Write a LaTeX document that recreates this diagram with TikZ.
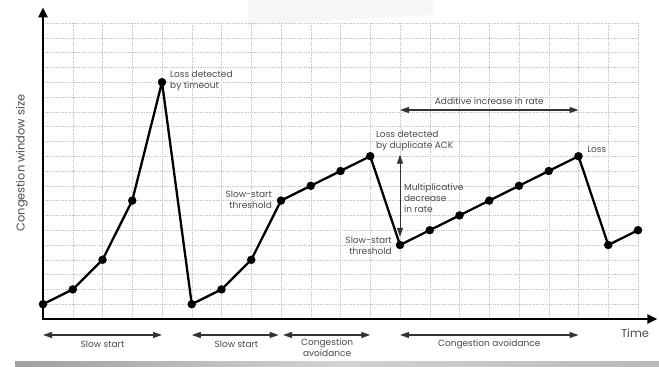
\documentclass[tikz,border=0pt]{standalone}
\usepackage{fontspec}
\setmainfont{Poppins}
\usetikzlibrary{arrows.meta}
\definecolor{labelgray}{HTML}{4A4A4A}
\definecolor{gridgray}{HTML}{C4C4C4}
\definecolor{spangray}{HTML}{333333}
\begin{document}
\begin{tikzpicture}[
  gridline/.style={gridgray, line width=0.45pt, dash pattern=on 1pt off 0.8pt},
  axisline/.style={line width=2.3pt, line join=miter,
    {Triangle[length=10pt,width=9pt]}-{Triangle[length=10pt,width=9pt]}},
  cwnd/.style={line width=2.3pt, line join=round},
  sample/.style={circle, fill=black, inner sep=0pt, minimum size=8.5pt},
  lbl/.style={text=labelgray, font=\fontsize{9}{11}\selectfont, inner sep=0pt},
  span/.style={spangray, line width=1.1pt,
    {Triangle[length=9pt,width=6pt]}-{Triangle[length=9pt,width=6pt]}},
]
\useasboundingbox (0,0) rectangle (659pt,367pt);

% faint sheet edge at the top and shadow strip at the bottom
\fill[gray!7] (248pt,367pt) -- (433pt,367pt) -- (433pt,352pt) -- (248pt,342pt) -- cycle;
\shade[left color=gray!75, right color=gray!55, middle color=gray!35]
  (15pt,0pt) rectangle (659pt,5pt);

\begin{scope}[shift={(43pt,48pt)}, x=29.75pt, y=14.8pt]
  % grid
  \foreach \i in {1,...,20} \draw[gridline] (\i,0) -- (\i,20);
  \foreach \j in {1,...,20} \draw[gridline] (0,\j) -- (20,\j);

  % axes
  \coordinate (o) at (0,0);
  \coordinate (ytip) at (0,21.05);
  \coordinate (xtip) at (20.65,0);
  \draw[axisline] (ytip) -- (o) -- (xtip);

  % congestion window samples
  \foreach \n/\x/\y in {0/0/1,1/1/2,2/2/4,3/3/8,4/4/16,5/5/1,6/6/2,7/7/4,8/8/8,
      9/9/9,10/10/10,11/11/11,12/12/5,13/13/6,14/14/7,15/15/8,16/16/9,17/17/10,
      18/18/11,19/19/5,20/20/6}
    \node[sample] (p\n) at (\x,\y) {};
  \draw[cwnd] (p0.center) -- (p1.center) -- (p2.center) -- (p3.center) -- (p4.center)
    -- (p5.center) -- (p6.center) -- (p7.center) -- (p8.center) -- (p9.center)
    -- (p10.center) -- (p11.center) -- (p12.center) -- (p13.center) -- (p14.center)
    -- (p15.center) -- (p16.center) -- (p17.center) -- (p18.center) -- (p19.center)
    -- (p20.center);

  % axis titles
  \node[text=labelgray, font=\fontsize{11.4}{13}\selectfont, rotate=90, inner sep=0pt]
    (ylab) at (-0.71,10.54) {Congestion window size};
  \node[text=labelgray, font=\fontsize{11.5}{13}\selectfont, inner sep=0pt]
    (xlab) at (19.9,-0.98) {Time};

  % event labels
  \node[lbl, anchor=west, align=left] (timeout) at (4.27,16.1) {Loss detected\\by timeout};
  \node[lbl, anchor=west, align=left] (dupack) at (11.19,12.06) {Loss detected\\by duplicate ACK};
  \node[lbl, anchor=west] (loss) at (18.29,11.49) {Loss};
  \node[lbl, anchor=east, align=right] (ssth1) at (7.7,8.04) {Slow-start\\threshold};
  \node[lbl, anchor=east, align=right] (ssth2) at (11.73,4.97) {Slow-start\\threshold};
  \node[lbl, anchor=west, align=left] (mdlab) at (12.13,8.18) {Multiplicative\\decrease\\in rate};

  % multiplicative decrease marker
  \coordinate (md1) at (12,11.1);
  \coordinate (md2) at (12,5.55);
  \draw[span, line width=0.9pt] (md1) -- (md2);

  % additive increase marker
  \coordinate (ai1) at (12,14.12);
  \coordinate (ai2) at (18,14.12);
  \draw[span] (ai1) -- (ai2);
  \node[lbl] (ailab) at (15,14.73) {Additive increase in rate};

  % phase spans under the time axis
  \coordinate (s1a) at (0,-1.08);    \coordinate (s1b) at (4,-1.08);
  \coordinate (s2a) at (5,-1.08);    \coordinate (s2b) at (7.92,-1.08);
  \coordinate (s3a) at (8.07,-1.08); \coordinate (s3b) at (11,-1.08);
  \coordinate (s4a) at (12,-1.08);   \coordinate (s4b) at (18,-1.08);
  \draw[span] (s1a) -- (s1b);
  \draw[span] (s2a) -- (s2b);
  \draw[span] (s3a) -- (s3b);
  \draw[span] (s4a) -- (s4b);
  \node[lbl] (ph1) at (2,-1.69) {Slow start};
  \node[lbl] (ph2) at (6.5,-1.69) {Slow start};
  \node[lbl, align=center] (ph3) at (9.55,-1.93) {Congestion\\avoidance};
  \node[lbl] (ph4) at (15,-1.69) {Congestion avoidance};
\end{scope}
\end{tikzpicture}
\end{document}
